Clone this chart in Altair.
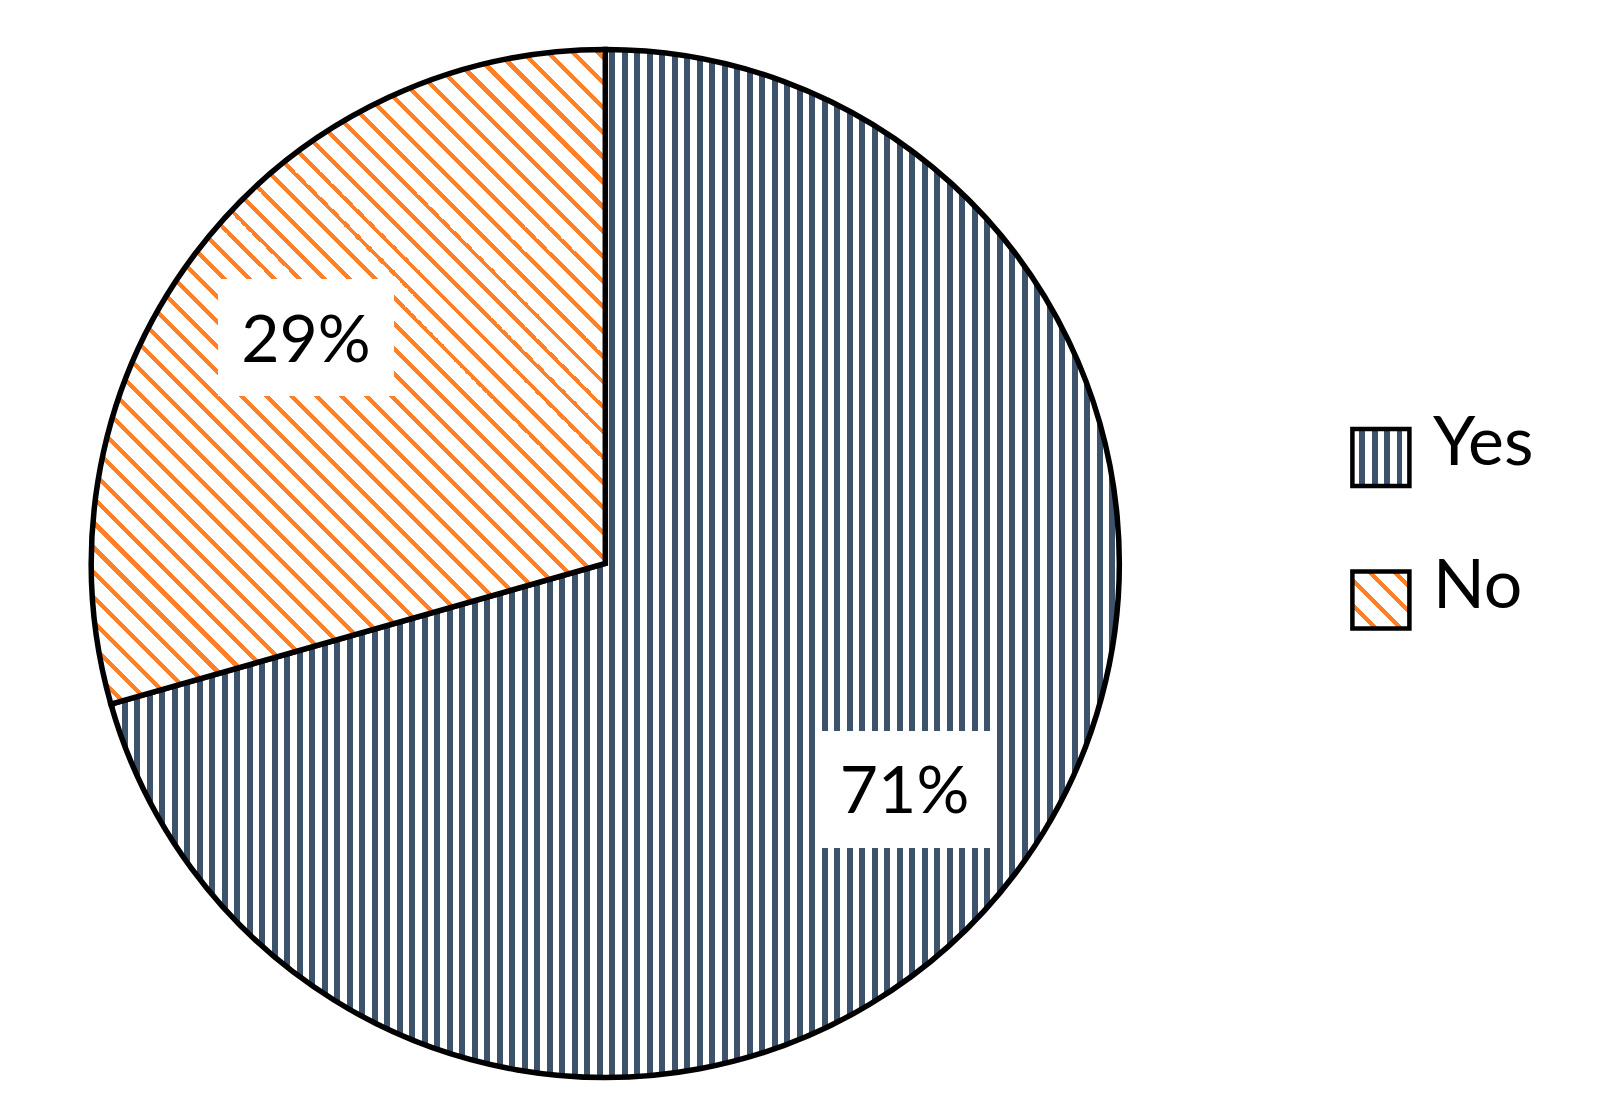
import math
import altair as alt
import pandas as pd

# ---- data ----
categories = ["Yes", "No"]
counts = [12, 5]
pct_labels = ["71%", "29%"]

# ---- style / layout ----
SLATE = "#3d536b"
ORANGE = "#ff8026"
W, H = 1600, 1080
CX, CY = 597.3, 555.5      # pie centre (chart coords)
R = 514                     # pie radius
LR = 375                    # label radius
BOX_W, BOX_H = 176, 117
FONT = "Lato"
PAGE = 8


def stripe_gradient(color, span, period, start, width, x1, y1, x2, y2):
    stops = [{"offset": 0, "color": "white"}]
    p = start % period - period
    while p < span:
        a, b = max(p, 0.0), min(p + width, span)
        if b > a:
            oa, ob = round(a / span, 6), round(b / span, 6)
            stops += [{"offset": oa, "color": "white"}, {"offset": oa, "color": color},
                      {"offset": ob, "color": color}, {"offset": ob, "color": "white"}]
        p += period
    stops.append({"offset": 1, "color": "white"})
    return {"gradient": "linear", "x1": x1, "y1": y1, "x2": x2, "y2": y2, "stops": stops}


def arc_bbox(a0, a1):
    xs, ys = [0.0], [0.0]
    n = 720
    for i in range(n + 1):
        t = 2 * math.pi * (a0 + (a1 - a0) * i / n)
        xs.append(R * math.sin(t))
        ys.append(-R * math.cos(t))
    return min(xs), max(xs), min(ys), max(ys)


total = sum(counts)
f_yes = counts[0] / total

# Yes slice: vertical stripes
yx0, yx1, yy0, yy1 = arc_bbox(0, f_yes)
yes_w = yx1 - yx0
yes_left_page = PAGE + CX + yx0
grad_yes = stripe_gradient(SLATE, yes_w, 12.5, (609.3 - yes_left_page) % 12.5, 6, 0, 0, 1, 0)

# No slice: diagonal stripes (down-right)
nx0, nx1, ny0, ny1 = arc_bbox(f_yes, 1)
nw, nh = nx1 - nx0, ny1 - ny0
t = (nw + nh) / (nw * nw + nh * nh)
bl = (PAGE + CX + nx0) - (PAGE + CY + ny1)
grad_no = stripe_gradient(ORANGE, nw + nh, 25, (421 - bl) % 25 - 3, 6,
                          0, 1, round(t * nw, 6), round(1 - t * nh, 6))

# legend swatches
SW = 57
leg_yes = stripe_gradient(SLATE, SW, 12.5, 6.6, 6, 0, 0, 1, 0)
leg_no = stripe_gradient(ORANGE, 2 * SW, 25, 21, 6, 0, 1, 1, 0)

df = pd.DataFrame({"cat": categories, "count": counts, "label": pct_labels})

xs = alt.Scale(domain=[0, W], nice=False, zero=False)
ys = alt.Scale(domain=[0, H], nice=False, zero=False, reverse=True)

base = alt.Chart(df).transform_window(
    idx="row_number()", cum="sum(count)"
).transform_joinaggregate(
    total="sum(count)"
).transform_calculate(
    a0="(datum.cum - datum.count) / datum.total",
    a1="datum.cum / datum.total",
).transform_calculate(
    mid="(datum.a0 + datum.a1) / 2"
).transform_calculate(
    lx=f"{CX} + {LR} * sin(2 * PI * datum.mid)",
    ly=f"{CY} - {LR} * cos(2 * PI * datum.mid)",
    lgy=f"449.5 + (datum.idx - 1) * 142.5",
).transform_calculate(
    rx0=f"datum.lx - {BOX_W / 2}",
    rx1=f"datum.lx + {BOX_W / 2}",
    ry0=f"datum.ly - {BOX_H / 2}",
    ry1=f"datum.ly + {BOX_H / 2}",
)

arcs = base.mark_arc(radius=R, stroke="black", strokeWidth=5.5, strokeJoin="miter").encode(
    theta=alt.Theta("a0:Q", scale=alt.Scale(domain=[0, 1], range=[0, 2 * math.pi])),
    theta2="a1:Q",
    x=alt.value(CX),
    y=alt.value(CY),
    fill=alt.condition("datum.cat === 'Yes'", alt.value(grad_yes), alt.value(grad_no)),
)

boxes = base.mark_rect(color="white").encode(
    x=alt.X("rx0:Q", scale=xs, axis=None),
    x2="rx1:Q",
    y=alt.Y("ry0:Q", scale=ys, axis=None),
    y2="ry1:Q",
)

labels = base.mark_text(font=FONT, fontSize=66, align="center", baseline="middle",
                        dy=4, color="black").encode(
    x=alt.X("lx:Q", scale=xs, axis=None),
    y=alt.Y("ly:Q", scale=ys, axis=None),
    text="label:N",
)

swatches = base.mark_square(size=SW * SW, stroke="black", strokeWidth=4.5,
                            opacity=1, filled=True).encode(
    x=alt.value(1372.9),
    y=alt.Y("lgy:Q", scale=ys, axis=None),
    fill=alt.condition("datum.cat === 'Yes'", alt.value(leg_yes), alt.value(leg_no)),
)

leg_text = base.mark_text(font=FONT, fontSize=68, align="left", baseline="alphabetic",
                          dy=7.5, color="black").encode(
    x=alt.value(1425),
    y=alt.Y("lgy:Q", scale=ys, axis=None),
    text="cat:N",
)

chart = alt.layer(arcs, boxes, labels, swatches, leg_text).properties(
    width=W, height=H, padding=0, autosize="none"
).configure_view(stroke=None)

chart.save("out.html", embed_options={"renderer": "svg", "actions": False})
